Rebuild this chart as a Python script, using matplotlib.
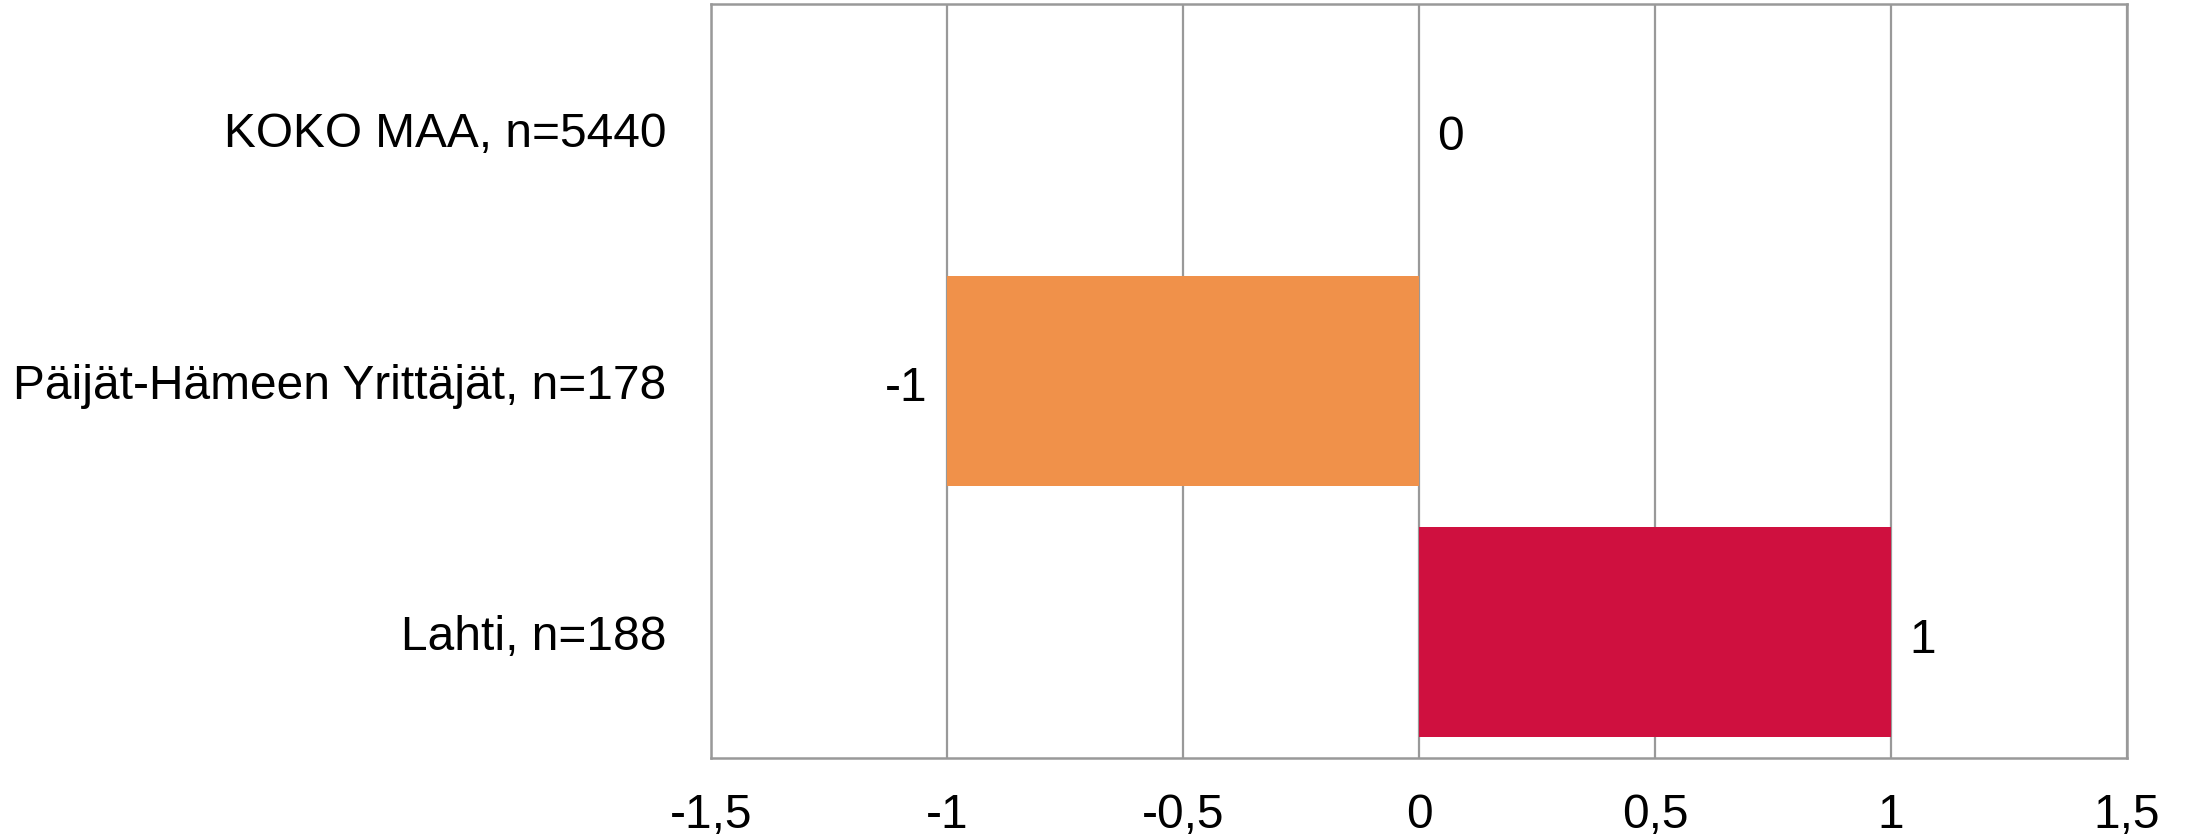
import matplotlib
matplotlib.use("Agg")
import matplotlib.pyplot as plt
from matplotlib.ticker import FixedLocator, FuncFormatter

categories = ["KOKO MAA, n=5440", "Päijät-Hämeen Yrittäjät, n=178", "Lahti, n=188"]
values = [0, -1, 1]
bar_colors = ["#F0914A", "#F0914A", "#CF103F"]
xticks = [-1.5, -1, -0.5, 0, 0.5, 1, 1.5]

plt.rcParams['font.family'] = ['Liberation Sans', 'DejaVu Sans']
FS = 34.5

fig = plt.figure(figsize=(21.87, 8.39), dpi=100)
ax = fig.add_axes([711/2187, 1 - 758/839, (2127-711)/2187, (758-4)/839])

y = list(range(len(categories)))
ax.barh(y, values, height=0.835, color=bar_colors, zorder=3)
ax.set_ylim(len(categories) - 0.5, -0.5)
ax.set_xlim(-1.5, 1.5)
ax.set_yticks(y)
ax.set_yticklabels(categories, fontsize=FS)
ax.xaxis.set_major_locator(FixedLocator(xticks))
ax.xaxis.set_major_formatter(FuncFormatter(lambda v, p: ("%g" % v).replace(".", ",")))
ax.tick_params(axis='x', labelsize=FS, length=0, pad=25)
ax.tick_params(axis='y', length=0, pad=32)
ax.grid(axis='x', color='#999999', linewidth=1.6, zorder=1)
for s in ax.spines.values():
    s.set_color('#999999')
    s.set_linewidth(1.8)

for yi, v in zip(y, values):
    if v < 0:
        ax.annotate("%g" % v, (v, yi), xytext=(-14, -2), textcoords='offset points',
                    ha='right', va='center_baseline', fontsize=FS)
    else:
        ax.annotate("%g" % v, (v, yi), xytext=(13, -2), textcoords='offset points',
                    ha='left', va='center_baseline', fontsize=FS)

fig.savefig("out.png", dpi=100)
